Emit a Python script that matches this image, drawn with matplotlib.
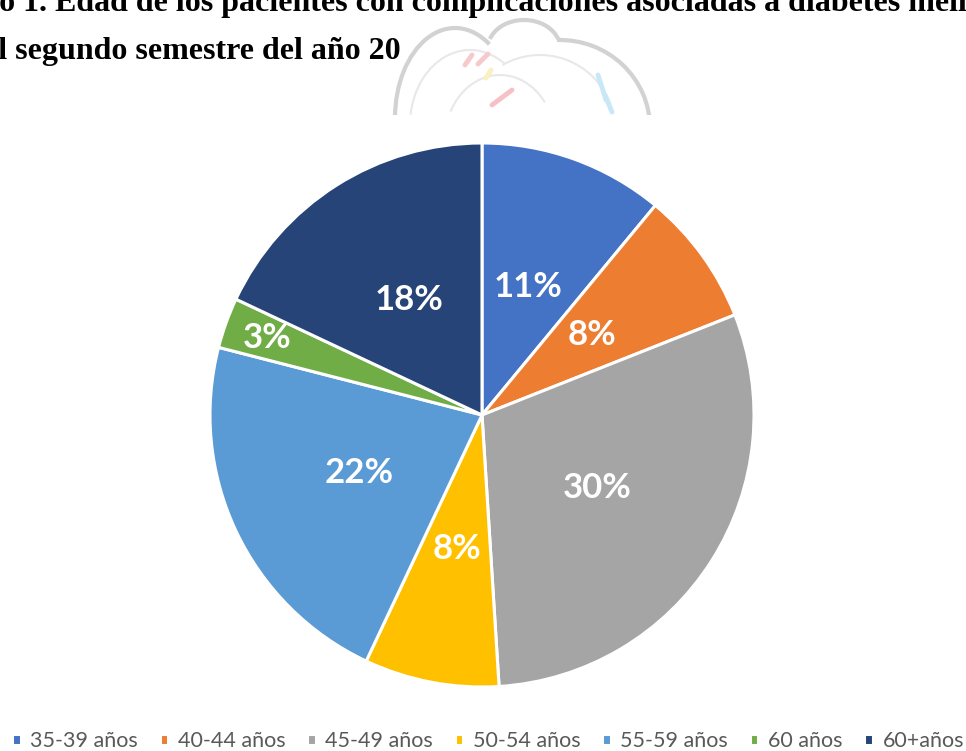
import matplotlib
matplotlib.use('Agg')
import matplotlib.pyplot as plt
import numpy as np
from matplotlib.patches import Arc

W, H = 966, 751

categories = ['35-39 años', '40-44 años', '45-49 años', '50-54 años',
              '55-59 años', '60 años', '60+años']
values = [11, 8, 30, 8, 22, 3, 18]
colors = ['#4472C4', '#ED7D31', '#A5A5A5', '#FFC000',
          '#5B9BD5', '#70AD47', '#264478']

title_1 = 'Gráfico 1. Edad de los pacientes con complicaciones asociadas a diabetes mellitus'
title_2 = 'en el segundo semestre del año 20'

fig = plt.figure(figsize=(W / 100, H / 100), dpi=100)

# pie axes: centre (482, 415) px, radius 272 px
cx, cy, r = 482, 415, 272
ax = fig.add_axes([(cx - r) / W, 1 - (cy + r) / H, 2 * r / W, 2 * r / H])
wedges, texts, autotexts = ax.pie(
    values, colors=colors, startangle=90, counterclock=False,
    autopct=lambda p: f'{p:.0f}%', pctdistance=0.5,
    wedgeprops=dict(edgecolor='white', linewidth=2.2),
    textprops=dict(color='white', fontsize=25, fontweight='bold', family='Lato'))
# small slices get their label further out, like Excel does
for w, at, v in zip(wedges, autotexts, values):
    if v < 5:
        a = np.deg2rad((w.theta1 + w.theta2) / 2)
        at.set_position((0.84 * np.cos(a), 0.84 * np.sin(a)))
ax.set_xlim(-1, 1)
ax.set_ylim(-1, 1)

# faint watermark behind the title (pixel coords, y up), cut off at y=115 px
wm_bottom = 115
wm = fig.add_axes([0, 1 - wm_bottom / H, 1, wm_bottom / H], zorder=-1)
wm.set_xlim(0, W)
wm.set_ylim(H - wm_bottom, H)
wm.axis('off')
def py(y):
    return H - y
g1, g2 = '#d2d2d2', '#e8e8e8'
wm.add_patch(Arc((455, py(118)), 120, 180, theta1=65, theta2=180, color=g1, lw=3))
wm.add_patch(Arc((524, py(48)), 72, 56, theta1=15, theta2=165, color=g1, lw=3))
wm.add_patch(Arc((560, py(128)), 180, 176, theta1=0, theta2=92, color=g1, lw=3))
wm.add_patch(Arc((470, py(125)), 120, 150, theta1=60, theta2=170, color=g2, lw=1.5))
wm.add_patch(Arc((540, py(130)), 150, 150, theta1=20, theta2=120, color=g2, lw=1.5))
wm.add_patch(Arc((500, py(140)), 110, 130, theta1=40, theta2=150, color=g2, lw=1.5))
for (x0, y0, x1, y1, c) in [(465, 65, 472, 55, '#f7c9cc'), (478, 64, 488, 54, '#f7c9cc'),
                            (486, 78, 491, 70, '#fbf0c0'), (492, 105, 512, 90, '#f7c0c4'),
                            (598, 75, 606, 100, '#c8e8f8'), (605, 95, 612, 112, '#c8e8f8')]:
    wm.plot([x0, x1], [py(y0), py(y1)], color=c, lw=3.5, solid_capstyle='round')

# cropped title lines
renderer = fig.canvas.get_renderer()
tp = dict(family='Liberation Serif', fontweight='bold', fontsize=23, color='black')
t = fig.text(0, 0, 'Gráfic', **tp)
off1 = t.get_window_extent(renderer).width + 1
t.remove()
t = fig.text(0, 0, 'en e', **tp)
off2 = t.get_window_extent(renderer).width + 2
t.remove()
fig.text(-off1 / W, 1 - 11 / H, title_1, ha='left', va='baseline', **tp)
fig.text(-off2 / W, 1 - 59 / H, title_2, ha='left', va='baseline', **tp)

leg = fig.legend(wedges, categories, loc='center', bbox_to_anchor=(488 / W, 1 - 741 / H),
                 ncol=7, frameon=False, handlelength=0.4, handleheight=0.45,
                 handletextpad=0.45, columnspacing=1.0, borderpad=0, borderaxespad=0,
                 prop=dict(family='Lato', size=15.5))
for txt in leg.get_texts():
    txt.set_color('#595959')

fig.savefig('out.png', dpi=100)
